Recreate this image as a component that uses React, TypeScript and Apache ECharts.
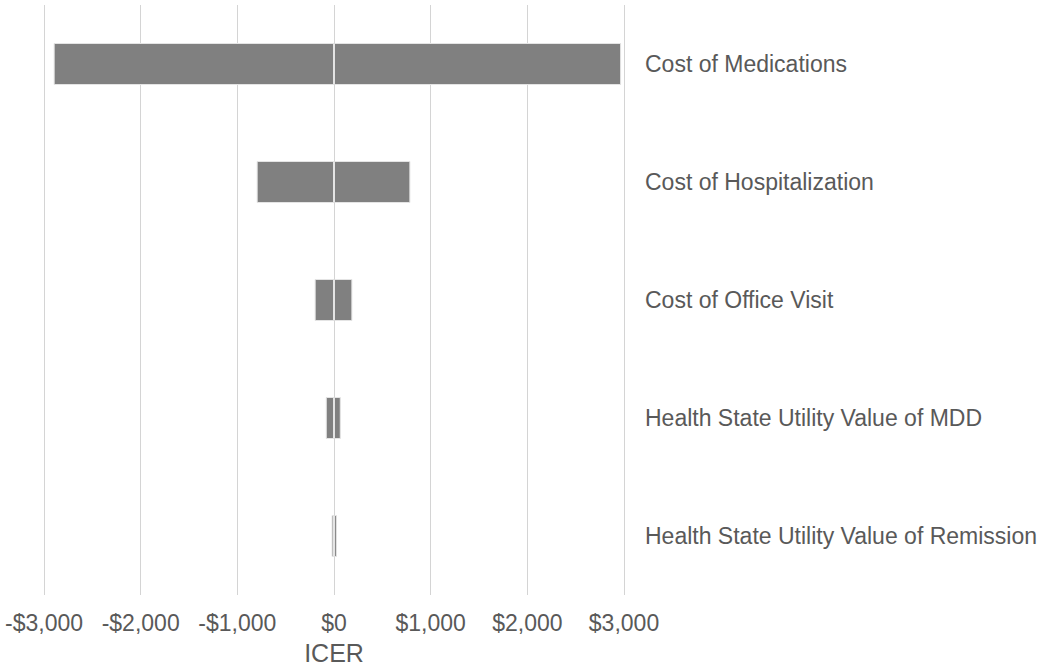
import React, { useEffect, useRef } from "react";
import * as echarts from "echarts";

const categories = [
  "Cost of Medications",
  "Cost of Hospitalization",
  "Cost of Office Visit",
  "Health State Utility Value of MDD",
  "Health State Utility Value of Remission",
];
const lowValues = [-2900, -800, -200, -85, -25];
const highValues = [2970, 790, 190, 70, 30];
const xTicks = [-3000, -2000, -1000, 0, 1000, 2000, 3000];

const fmt = (v: number) => {
  const s = "$" + Math.abs(v).toLocaleString("en-US");
  return v < 0 ? "-" + s : s;
};

export default function App() {
  const ref = useRef<HTMLDivElement>(null);
  useEffect(() => {
    document.body.style.margin = "0";
    const chart = echarts.init(ref.current!, null, { renderer: "svg" });
    const font = "'Liberation Sans', Arial, sans-serif";
    const barStyle = {
      color: "#808080",
      borderColor: "#e4e4e4",
      borderWidth: 1,
    };
    chart.setOption({
      animation: false,
      backgroundColor: "#ffffff",
      grid: { left: 44, width: 580, top: 5, height: 590, containLabel: false },
      xAxis: {
        type: "value",
        min: xTicks[0],
        max: xTicks[xTicks.length - 1],
        interval: 1000,
        name: "ICER",
        nameLocation: "middle",
        nameGap: 45,
        nameTextStyle: { color: "#595959", fontSize: 25, fontFamily: font },
        axisLine: { show: false },
        axisTick: { show: false },
        axisLabel: {
          color: "#595959",
          fontSize: 23,
          fontFamily: font,
          margin: 16,
          formatter: (v: number) => fmt(v),
        },
        splitLine: { show: true, lineStyle: { color: "#d4d4d4", width: 1 } },
      },
      yAxis: {
        type: "category",
        data: categories,
        inverse: true,
        position: "right",
        axisLine: { show: false },
        axisTick: { show: false },
        splitLine: { show: false },
        axisLabel: {
          color: "#595959",
          fontSize: 23,
          fontFamily: font,
          margin: 21,
        },
      },
      series: [
        {
          type: "bar",
          data: lowValues,
          barWidth: 42,
          barGap: "-100%",
          itemStyle: barStyle,
        },
        {
          type: "bar",
          data: highValues,
          barWidth: 42,
          barGap: "-100%",
          itemStyle: barStyle,
        },
      ],
    });
    return () => chart.dispose();
  }, []);
  return <div ref={ref} style={{ width: 1050, height: 671 }} />;
}
